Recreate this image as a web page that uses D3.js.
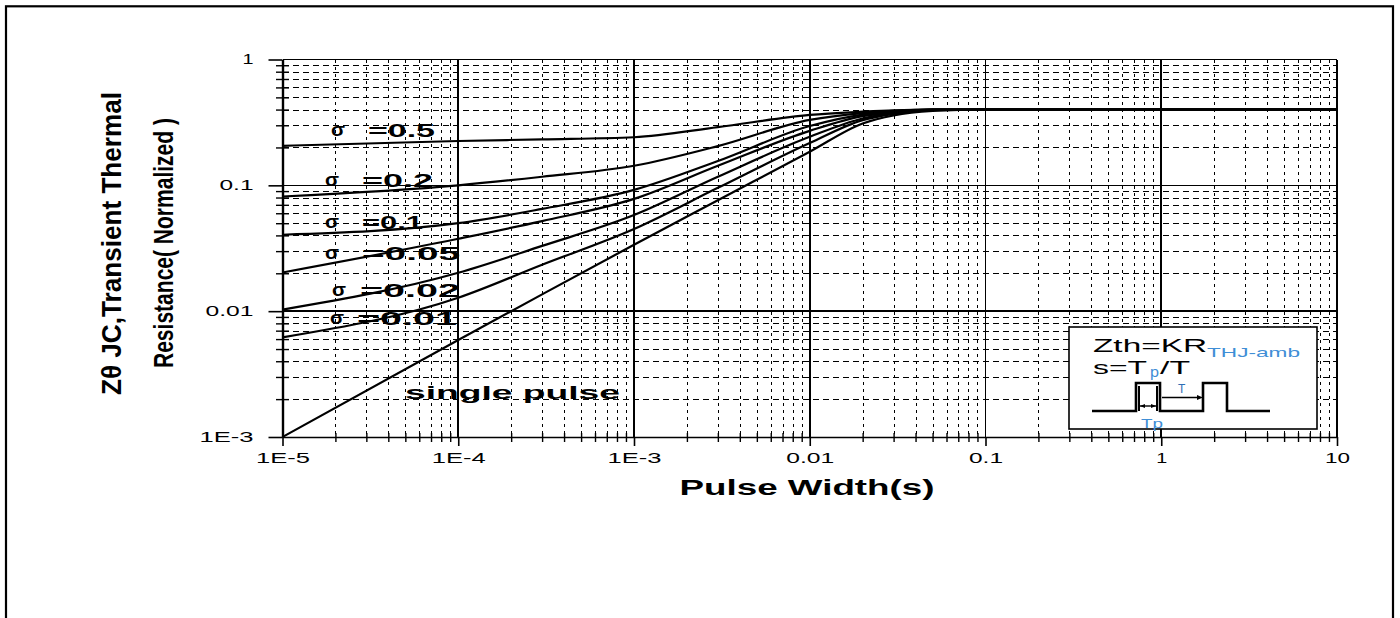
<!DOCTYPE html>
<html>
<head>
<meta charset="utf-8">
<script src="https://cdn.jsdelivr.net/npm/d3@7/dist/d3.min.js"></script>
<style>
  html, body { margin: 0; padding: 0; background: #fff; }
  svg { display: block; }
  text { font-family: "Liberation Sans", Arial, sans-serif; fill: #000; }
</style>
</head>
<body>
<svg id="chart" width="1400" height="618"></svg>
<script>
// Pulse widths (s) at which each curve is sampled
const pulseWidth = [1e-5, 1e-4, 3e-4, 1e-3, 3e-3, 1e-2, 2e-2, 3e-2, 5e-2, 0.1, 1, 10];

// Normalized transient thermal resistance per duty cycle
const zDuty05   = [0.206, 0.225, 0.232, 0.241, 0.290, 0.363, 0.385, 0.395, 0.40, 0.40, 0.40, 0.40];
const zDuty02   = [0.0815, 0.100, 0.117, 0.143, 0.205, 0.331, 0.375, 0.390, 0.40, 0.40, 0.40, 0.40];
const zDuty01   = [0.0405, 0.050, 0.065, 0.092, 0.156, 0.296, 0.365, 0.385, 0.40, 0.40, 0.40, 0.40];
const zDuty005  = [0.0203, 0.0376, 0.052, 0.078, 0.143, 0.271, 0.355, 0.380, 0.40, 0.40, 0.40, 0.40];
const zDuty002  = [0.0103, 0.0202, 0.033, 0.058, 0.117, 0.243, 0.340, 0.375, 0.398, 0.40, 0.40, 0.40];
const zDuty001  = [0.0062, 0.0128, 0.0234, 0.045, 0.0955, 0.217, 0.330, 0.370, 0.397, 0.40, 0.40, 0.40];
const zSingle   = [0.0010, 0.0059, 0.0136, 0.0337, 0.076, 0.185, 0.310, 0.360, 0.390, 0.40, 0.40, 0.40];

const seriesValues = [zDuty05, zDuty02, zDuty01, zDuty005, zDuty002, zDuty001, zSingle];
const dutyValues = ["=0.5", "=0.2", "=0.1", "=0.05", "=0.02", "=0.01"];
const singleLabel = "single pulse";

// Axis ticks
const xTickValues = [1e-5, 1e-4, 1e-3, 1e-2, 1e-1, 1, 10];
const xTickLabels = ["1E-5", "1E-4", "1E-3", "0.01", "0.1", "1", "10"];
const yTickValues = [1e-3, 1e-2, 1e-1, 1];
const yTickLabels = ["1E-3", "0.01", "0.1", "1"];

const xTitle = "Pulse Width(s)";
const yTitleLines = ["Zθ JC,Transient Thermal", "Resistance( Normalized )"];

(function draw() {
  const svg = d3.select("#chart");
  svg.append("rect").attr("width", 1400).attr("height", 618).attr("fill", "#fff");

  // outer frame (open at the bottom edge)
  svg.append("rect")
    .attr("x", 6).attr("y", 6.3).attr("width", 1387).attr("height", 700)
    .attr("fill", "none").attr("stroke", "#000").attr("stroke-width", 2.2);

  const pLeft = 282.5, pRight = 1337, pTop = 59.5, pBottom = 437;
  const x = d3.scaleLog().domain([1e-5, 10]).range([pLeft, pRight]);
  const y = d3.scaleLog().domain([1e-3, 1]).range([pBottom, pTop]);

  // minor positions (2..9 within each decade)
  function minors(lo, hi) {
    const out = [];
    for (let k = lo; k < hi; k++) for (let m = 2; m <= 9; m++) out.push(m * Math.pow(10, k));
    return out;
  }
  const xMinor = minors(-5, 1);
  const yMinor = minors(-3, 0);

  const grid = svg.append("g").attr("shape-rendering", "crispEdges");

  grid.selectAll("line.vminor").data(xMinor).join("line")
    .attr("x1", d => Math.round(x(d)) + 0.5).attr("x2", d => Math.round(x(d)) + 0.5)
    .attr("y1", pTop).attr("y2", pBottom)
    .attr("stroke", "#000").attr("stroke-width", 1.3).attr("stroke-dasharray", "3,4");

  grid.selectAll("line.hminor").data(yMinor).join("line")
    .attr("x1", pLeft).attr("x2", pRight)
    .attr("y1", d => Math.round(y(d)) + 0.5).attr("y2", d => Math.round(y(d)) + 0.5)
    .attr("stroke", "#000").attr("stroke-width", 1.2).attr("stroke-dasharray", "6,4");

  grid.selectAll("line.vmajor").data(xTickValues.slice(1)).join("line")
    .attr("x1", d => x(d)).attr("x2", d => x(d))
    .attr("y1", pTop).attr("y2", pBottom)
    .attr("stroke", "#000").attr("stroke-width", 1.6);

  grid.selectAll("line.hmajor").data(yTickValues.slice(1, 3)).join("line")
    .attr("x1", pLeft).attr("x2", pRight)
    .attr("y1", d => y(d)).attr("y2", d => y(d))
    .attr("stroke", "#000").attr("stroke-width", 1.4);

  // top border
  grid.append("line").attr("x1", pLeft).attr("x2", pRight).attr("y1", pTop).attr("y2", pTop)
    .attr("stroke", "#000").attr("stroke-width", 1.6);

  // tick labels are set wide: width from a per-character estimate
  const charW = c => (c === "." ? 6 : c === "E" ? 13 : c === "-" ? 10 : 11);
  const labelWidth = s => s.split("").reduce((a, c) => a + charW(c), 0) + 3 * (s.length - 1);
  const fontTick = g => g.selectAll("text")
    .style("font-family", '"Liberation Sans", Arial, sans-serif')
    .style("font-size", "14px").attr("fill", "#000")
    .attr("lengthAdjust", "spacingAndGlyphs")
    .attr("textLength", function () { return labelWidth(this.textContent); });

  const xAxis = svg.append("g").attr("transform", `translate(0,${pBottom})`)
    .call(d3.axisBottom(x).tickValues(xTickValues).tickFormat((d, i) => xTickLabels[i])
      .tickSize(9).tickPadding(7).tickSizeOuter(0));
  xAxis.select(".domain").attr("stroke-width", 1.6);
  xAxis.selectAll(".tick line").attr("stroke-width", 1.6);
  xAxis.call(fontTick);

  const xMinorAxis = svg.append("g").attr("transform", `translate(0,${pBottom - 4})`)
    .call(d3.axisBottom(x).tickValues(xMinor).tickFormat("").tickSize(9).tickSizeOuter(0));
  xMinorAxis.select(".domain").remove();
  xMinorAxis.selectAll(".tick line").attr("stroke-width", 1.4);

  const yAxis = svg.append("g").attr("transform", `translate(${pLeft},0)`)
    .call(d3.axisLeft(y).tickValues(yTickValues).tickFormat((d, i) => yTickLabels[i])
      .tickSize(14).tickPadding(15).tickSizeOuter(0));
  yAxis.select(".domain").attr("stroke-width", 2.4);
  yAxis.selectAll(".tick line").attr("stroke-width", 1.6);
  yAxis.call(fontTick);

  const yMinorAxis = svg.append("g").attr("transform", `translate(${pLeft + 6.5},0)`)
    .call(d3.axisLeft(y).tickValues(yMinor).tickFormat("").tickSize(13).tickSizeOuter(0));
  yMinorAxis.select(".domain").remove();
  yMinorAxis.selectAll(".tick line").attr("stroke-width", 1.4);

  // curves
  const line = d3.line()
    .x((d, i) => x(pulseWidth[i]))
    .y(d => y(d))
    .curve(d3.curveMonotoneX);

  svg.append("g").selectAll("path").data(seriesValues).join("path")
    .attr("d", line)
    .attr("fill", "none").attr("stroke", "#000").attr("stroke-width", 2.2)
    .attr("stroke-linejoin", "round");

  // curve labels: [sigma x, value x, value width, center y]
  const labelLayout = [
    [331, 368, 67, 130],
    [325, 362, 71, 180],
    [325, 362, 61, 222],
    [325, 362, 98, 253],
    [332, 360, 100, 290],
    [330, 357, 100, 318]
  ];
  const labels = svg.append("g").attr("font-weight", "bold").attr("font-size", 18);
  dutyValues.forEach((v, i) => {
    const [sx, vx, vw, cy] = labelLayout[i];
    labels.append("text").attr("x", sx).attr("y", cy + 6)
      .attr("textLength", 14).attr("lengthAdjust", "spacingAndGlyphs").text("σ");
    labels.append("text").attr("x", vx).attr("y", cy + 6.5)
      .attr("textLength", vw).attr("lengthAdjust", "spacingAndGlyphs").text(v);
  });
  labels.append("text").attr("x", 405).attr("y", 399)
    .attr("textLength", 215).attr("lengthAdjust", "spacingAndGlyphs").text(singleLabel);

  // axis titles
  svg.append("text").attr("x", 807).attr("y", 495)
    .attr("text-anchor", "middle").attr("font-weight", "bold").attr("font-size", 22)
    .attr("textLength", 255).attr("lengthAdjust", "spacingAndGlyphs").text(xTitle);

  const yTitleLayout = [[111, 243.5, 303], [163, 243, 250]];
  yTitleLines.forEach((t, i) => {
    const [cx, cy, len] = yTitleLayout[i];
    svg.append("text")
      .attr("transform", `translate(${cx + 10},${cy}) rotate(-90)`)
      .attr("text-anchor", "middle")
      .style("font-family", '"Liberation Sans Narrow", "Liberation Sans", Arial, sans-serif')
      .attr("font-weight", "bold")
      .attr("font-size", 28)
      .attr("textLength", len).attr("lengthAdjust", "spacingAndGlyphs").text(t);
  });

  // inset: definition of Zth and duty cycle with pulse sketch
  const inset = svg.append("g");
  inset.append("rect").attr("x", 1069).attr("y", 327).attr("width", 248).attr("height", 102)
    .attr("fill", "#fff").attr("stroke", "#000").attr("stroke-width", 1.6);
  const blue = "#3f8ed6";
  inset.append("text").attr("x", 1093).attr("y", 352).attr("font-size", 19)
    .attr("textLength", 114).attr("lengthAdjust", "spacingAndGlyphs").text("Zth=KR");
  inset.append("text").attr("x", 1207).attr("y", 357).attr("font-size", 13)
    .style("fill", blue).attr("textLength", 93).attr("lengthAdjust", "spacingAndGlyphs").text("THJ-amb");
  inset.append("text").attr("x", 1093).attr("y", 374).attr("font-size", 19)
    .attr("textLength", 54).attr("lengthAdjust", "spacingAndGlyphs").text("s=T");
  inset.append("text").attr("x", 1150).attr("y", 377).attr("font-size", 14)
    .style("fill", blue).attr("textLength", 9).attr("lengthAdjust", "spacingAndGlyphs").text("p");
  inset.append("text").attr("x", 1160).attr("y", 374).attr("font-size", 19)
    .attr("textLength", 30).attr("lengthAdjust", "spacingAndGlyphs").text("/T");

  inset.append("path")
    .attr("d", "M1092,411 H1136 V383 H1160 V411 H1203 V383 H1227 V411 H1270")
    .attr("fill", "none").attr("stroke", "#000").attr("stroke-width", 2.6);
  inset.append("path")
    .attr("d", "M1139,386 V411 M1157,386 V411")
    .attr("fill", "none").attr("stroke", "#000").attr("stroke-width", 2);
  inset.append("path").attr("d", "M1162,397.5 H1199").attr("stroke", "#000").attr("stroke-width", 1.4);
  inset.append("path").attr("d", "M1203,397.5 L1197,395 L1197,400 Z").attr("fill", "#000");
  inset.append("path").attr("d", "M1140,406 H1156").attr("stroke", "#000").attr("stroke-width", 1.4);
  inset.append("path").attr("d", "M1140,406 L1145,404 L1145,408 Z M1156,406 L1151,404 L1151,408 Z").attr("fill", "#000");
  inset.append("text").attr("x", 1178).attr("y", 393).attr("font-size", 12).style("fill", "#2f6fb5").text("T");
  inset.append("text").attr("x", 1141).attr("y", 428).attr("font-size", 13).style("fill", blue)
    .attr("textLength", 22).attr("lengthAdjust", "spacingAndGlyphs").text("Tp");
})();
</script>
</body>
</html>
